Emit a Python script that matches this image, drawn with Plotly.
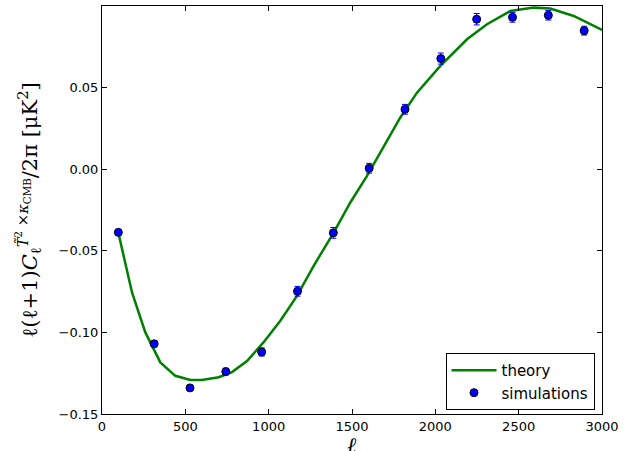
import plotly.graph_objects as go

# theory curve
theory_ell = [100, 180, 260, 350, 440, 530, 600, 700, 780, 870, 970, 1070, 1170, 1270,
              1390, 1490, 1590, 1680, 1790, 1890, 2030, 2190, 2310, 2450, 2590, 2690, 2830, 3000]
theory_val = [-0.0398, -0.0755, -0.1000, -0.1184, -0.1266, -0.1292, -0.1292, -0.1275, -0.1243,
              -0.1176, -0.1060, -0.0929, -0.0776, -0.0592, -0.0388, -0.0204, -0.0041, 0.0122,
              0.0317, 0.0469, 0.0633, 0.0796, 0.0888, 0.0969, 0.0990, 0.0984, 0.0939, 0.0853]

# simulations
sim_ell = [98, 313, 528, 743, 958, 1173, 1388, 1603, 1818, 2033, 2248, 2463, 2678, 2893]
sim_val = [-0.0387, -0.1070, -0.1340, -0.1240, -0.1120, -0.0748, -0.0390, 0.0006,
           0.0367, 0.0678, 0.0919, 0.0931, 0.0943, 0.0849]
sim_err = [0.0010, 0.0012, 0.0015, 0.0020, 0.0025, 0.0030, 0.0033, 0.0030,
           0.0030, 0.0034, 0.0035, 0.0030, 0.0029, 0.0027]

x_ticks = [0, 500, 1000, 1500, 2000, 2500, 3000]
y_ticks = [-0.15, -0.10, -0.05, 0.00, 0.05]

fig = go.Figure()
fig.add_trace(go.Scatter(
    x=theory_ell, y=theory_val, mode="lines", name="theory",
    line=dict(color="#008000", width=2.5)))
fig.add_trace(go.Scatter(
    x=sim_ell, y=sim_val, mode="markers", name="simulations",
    marker=dict(color="#0000ff", size=8, line=dict(color="black", width=1)),
    error_y=dict(type="data", array=sim_err, color="#0000ff", thickness=1, width=3)))

axis_common = dict(showline=True, linecolor="black", linewidth=1, mirror="allticks",
                   ticks="inside", ticklen=5, tickcolor="black", showgrid=False,
                   zeroline=False, automargin=False,
                   tickfont=dict(family="DejaVu Sans", size=13, color="black"))

fig.update_layout(
    width=632, height=451,
    margin=dict(l=102, r=30, t=6, b=37),
    paper_bgcolor="white", plot_bgcolor="white",
    showlegend=True,
    legend=dict(x=0.985, y=0.01, xanchor="right", yanchor="bottom",
                bordercolor="black", borderwidth=1, bgcolor="white",
                font=dict(family="DejaVu Sans", size=15, color="black"),
                tracegroupgap=0, itemwidth=45),
    xaxis=dict(range=[0, 3000], tickvals=x_ticks, **axis_common),
    yaxis=dict(range=[-0.15, 0.1], tickvals=y_ticks, tickformat=".2f",
               title=dict(text="ℓ(ℓ+1)<i>C</i><sub>ℓ</sub><sup><i>T̃</i><sup>2</sup> ×<i>κ</i><sub>CMB</sub></sup>/2π [μK<sup>2</sup>]",
                          font=dict(family="DejaVu Serif", size=21, color="black")),
               **axis_common),
    annotations=[dict(text="<i>ℓ</i>", xref="paper", yref="paper", x=0.5, y=0,
                      xanchor="center", yanchor="top", yshift=-17, showarrow=False,
                      font=dict(family="DejaVu Serif", size=22, color="black"))],
)

fig.write_html("out.html", config={"displayModeBar": False},
               post_script="document.body.style.margin='0';document.body.style.padding='0';")
